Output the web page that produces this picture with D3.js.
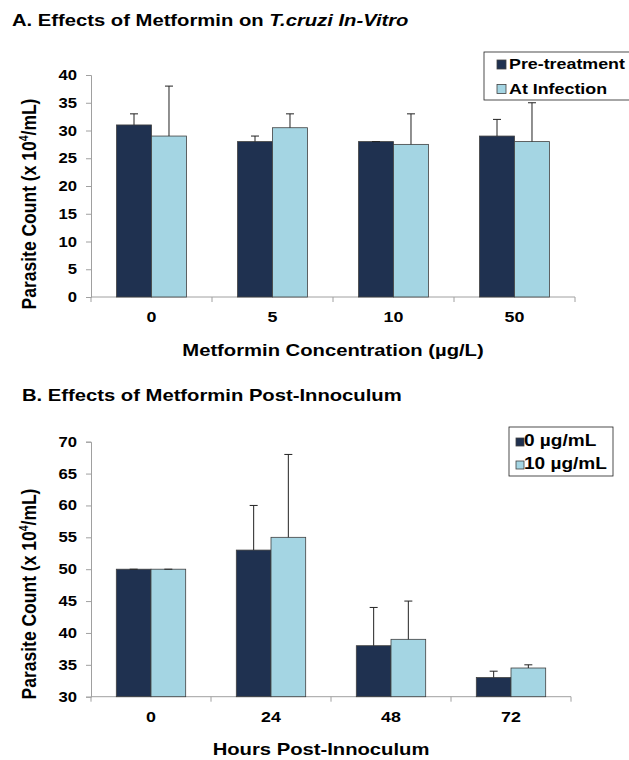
<!DOCTYPE html>
<html>
<head>
<meta charset="utf-8">
<script src="https://cdn.jsdelivr.net/npm/d3@7"></script>
<style>
  body { margin:0; background:#fff; }
  svg { display:block; font-family:"Liberation Sans", Arial, sans-serif; font-weight:bold; }
</style>
</head>
<body>
<div id="chart"></div>
<script>
// panel A data
const concCats = ["0", "5", "10", "50"];
const concSeries = ["Pre-treatment", "At Infection"];
const preTreatment = [31, 28, 28, 29];
const preTreatmentErr = [2, 1, 0, 3];
const atInfection = [29, 30.5, 27.5, 28];
const atInfectionErr = [9, 2.5, 5.5, 7];
const concTicks = [0, 5, 10, 15, 20, 25, 30, 35, 40];

// panel B data
const hourCats = ["0", "24", "48", "72"];
const doseSeries = ["0 µg/mL", "10 µg/mL"];
const dose0 = [50, 53, 38, 33];
const dose0Err = [0, 7, 6, 1];
const dose10 = [50, 55, 39, 34.5];
const dose10Err = [0, 13, 6, 0.5];
const hourTicks = [30, 35, 40, 45, 50, 55, 60, 65, 70];

const colors = ["#1f3150", "#a4d5e3"];
const SX = 1.19; // the original figure is a bit wider than tall, text too

let width = 629, height = 760;
let svg = d3.select("#chart").append("svg")
  .attr("width", width).attr("height", height);

// text stretched horizontally like in the source image
function txt(g, x, y, size, anchor){
  return g.append("text")
    .attr("transform", `translate(${x},${y}) scale(${SX},1)`)
    .attr("font-size", size).attr("text-anchor", anchor || "start").attr("fill", "#000");
}

function panel(cfg){
  let g = svg.append("g");
  let x0 = d3.scaleBand().domain(cfg.cats).range([cfg.left, cfg.right]);
  let x1 = d3.scaleBand().domain([0, 1]).range([0, x0.bandwidth()])
    .paddingInner(0).paddingOuter(0.73);
  let y = d3.scaleLinear().domain(cfg.domain).range([cfg.bottom, cfg.top]);

  // title
  let t = txt(g, cfg.titleX, cfg.titleY, 17);
  cfg.title.forEach(p => t.append("tspan").attr("font-style", p.italic ? "italic" : "normal").text(p.text));

  // y axis
  let yAxis = d3.axisLeft(y).tickValues(cfg.ticks).tickSize(5).tickFormat("");
  let yg = g.append("g").attr("transform", `translate(${cfg.left},0)`).call(yAxis);
  yg.select(".domain").attr("stroke", "#a0a0a0");
  yg.selectAll(".tick line").attr("stroke", "#a0a0a0");
  cfg.ticks.forEach(v => txt(g, cfg.left - 14, y(v) + 5, 14, "end").text(v));

  // x axis (ticks at band boundaries)
  let edges = cfg.cats.map(c => x0(c)).concat([cfg.right]);
  let xg = g.append("g");
  xg.append("line").attr("x1", cfg.left).attr("x2", cfg.right)
    .attr("y1", cfg.bottom).attr("y2", cfg.bottom).attr("stroke", "#a0a0a0");
  xg.selectAll(".xt").data(edges).enter().append("line")
    .attr("x1", d => d).attr("x2", d => d)
    .attr("y1", cfg.bottom).attr("y2", cfg.bottom + 5).attr("stroke", "#a0a0a0");
  cfg.cats.forEach(c => txt(xg, x0(c) + x0.bandwidth() / 2, cfg.bottom + 25, 15, "middle").text(c));

  // bars
  let rows = [];
  cfg.cats.forEach((c, i) => {
    cfg.values.forEach((vals, s) => rows.push({ c: c, s: s, v: vals[i], e: cfg.errors[s][i] }));
  });
  g.selectAll(".bar").data(rows).enter().append("rect")
    .attr("x", d => x0(d.c) + x1(d.s))
    .attr("width", x1.bandwidth())
    .attr("y", d => y(d.v))
    .attr("height", d => y(cfg.domain[0]) - y(d.v))
    .attr("fill", d => colors[d.s])
    .attr("stroke", "#404040").attr("stroke-width", 0.8);

  // error bars (upper only)
  let eb = g.selectAll(".err").data(rows).enter().append("g")
    .attr("stroke", "#222").attr("stroke-width", 1);
  eb.append("line")
    .attr("x1", d => x0(d.c) + x1(d.s) + x1.bandwidth() / 2)
    .attr("x2", d => x0(d.c) + x1(d.s) + x1.bandwidth() / 2)
    .attr("y1", d => y(d.v)).attr("y2", d => y(d.v + d.e));
  eb.append("line")
    .attr("x1", d => x0(d.c) + x1(d.s) + x1.bandwidth() / 2 - 4)
    .attr("x2", d => x0(d.c) + x1(d.s) + x1.bandwidth() / 2 + 4)
    .attr("y1", d => y(d.v + d.e)).attr("y2", d => y(d.v + d.e));

  // y label
  let yl = g.append("text")
    .attr("transform", `translate(${cfg.yLabelX},${cfg.yLabelY}) scale(${SX},1) rotate(-90)`)
    .attr("text-anchor", "middle").attr("font-size", 17.5);
  yl.append("tspan").text("Parasite Count (x 10");
  yl.append("tspan").attr("font-size", 10.5).attr("dy", -7).text("4");
  yl.append("tspan").attr("dy", 7).text("/mL)");

  // x label
  txt(g, cfg.xLabelX, cfg.xLabelY, 17, "middle").text(cfg.xLabel);

  // legend
  let L = cfg.legend;
  g.append("rect").attr("x", L.x).attr("y", L.y).attr("width", L.w).attr("height", L.h)
    .attr("fill", "#fff").attr("stroke", "#222").attr("stroke-width", 0.8);
  cfg.series.forEach((s, i) => {
    let base = L.base + i * L.gap;
    g.append("rect").attr("x", L.sx).attr("y", base - L.ss).attr("width", L.ss).attr("height", L.ss)
      .attr("fill", colors[i]).attr("stroke", "#404040").attr("stroke-width", 0.8);
    txt(g, L.tx, base, L.fs).text(s);
  });
}

panel({
  cats: concCats, series: concSeries,
  values: [preTreatment, atInfection], errors: [preTreatmentErr, atInfectionErr],
  domain: [0, 40], ticks: concTicks,
  left: 91, right: 575, top: 75, bottom: 297,
  title: [{ text: "A. Effects of Metformin on " }, { text: "T.cruzi In-Vitro", italic: true }],
  titleX: 12, titleY: 26,
  xLabel: "Metformin Concentration (µg/L)", xLabelX: 333, xLabelY: 356,
  yLabelX: 36, yLabelY: 204,
  legend: { x: 484, y: 52, w: 150, h: 48, sx: 497, ss: 9, tx: 509, base: 69, gap: 24.5, fs: 15 }
});

panel({
  cats: hourCats, series: doseSeries,
  values: [dose0, dose10], errors: [dose0Err, dose10Err],
  domain: [30, 70], ticks: hourTicks,
  left: 91, right: 571, top: 441.7, bottom: 696.7,
  title: [{ text: "B. Effects of Metformin Post-Innoculum" }],
  titleX: 22, titleY: 401,
  xLabel: "Hours Post-Innoculum", xLabelX: 321, xLabelY: 755,
  yLabelX: 36, yLabelY: 594,
  legend: { x: 509, y: 427, w: 104, h: 49, sx: 516, ss: 8, tx: 524, base: 446, gap: 23, fs: 16 }
});
</script>
</body>
</html>
